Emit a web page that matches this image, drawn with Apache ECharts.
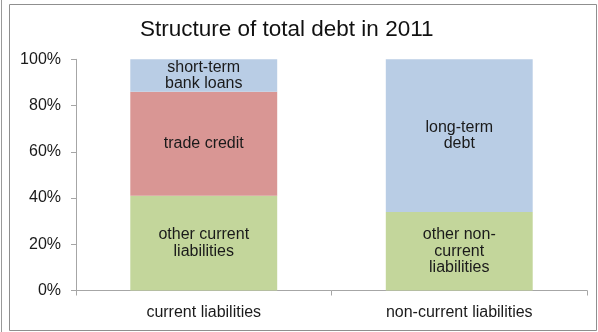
<!DOCTYPE html>
<html>
<head>
<meta charset="utf-8">
<script src="https://cdn.jsdelivr.net/npm/echarts@6/dist/echarts.min.js"></script>
<style>
  html, body { margin: 0; padding: 0; background: #ffffff; }
  #chart { width: 598px; height: 332px; }
</style>
</head>
<body>
<div id="chart"></div>
<script>
// Liability groups on the category axis
const categories = ['current liabilities', 'non-current liabilities'];

// Stacked shares of total debt (%), bottom to top
const bottomValues = [41, 34];
const middleValues = [45, 0];
const topValues = [14, 66];

// Segment captions drawn inside the bars
const bottomNames = ['other current\nliabilities', 'other non-\ncurrent\nliabilities'];
const middleNames = ['trade credit', ''];
const topNames = ['short-term\nbank loans', 'long-term\ndebt'];

const FONT = '"Liberation Sans", Arial, sans-serif';

function insideLabel(names) {
  return {
    show: true,
    position: 'inside',
    color: '#1a1a1a',
    fontFamily: FONT,
    fontSize: 16,
    lineHeight: 16.5,
    formatter: p => (p.value ? names[p.dataIndex] : '')
  };
}

function stackSeries(name, values, names, color) {
  return {
    name: name,
    type: 'bar',
    stack: 'debt',
    data: values,
    barCategoryGap: '42.5%',
    itemStyle: { color: color },
    label: insideLabel(names),
    emphasis: { disabled: true }
  };
}

const chart = echarts.init(document.getElementById('chart'), null, { renderer: 'canvas' });

chart.setOption({
  animation: false,
  backgroundColor: '#ffffff',
  title: {
    text: 'Structure of total debt in 2011',
    left: 140,
    top: 18,
    padding: 0,
    textStyle: { fontFamily: FONT, fontSize: 22.5, fontWeight: 'normal', color: '#111111' }
  },
  graphic: [
    {
      type: 'rect',
      shape: { x: 9.5, y: 4.5, width: 587, height: 326 },
      style: { fill: 'none', stroke: '#8f8f8f', lineWidth: 1 },
      silent: true
    },
    {
      type: 'line',
      shape: { x1: 1.5, y1: 0, x2: 1.5, y2: 332 },
      style: { stroke: '#9a9a9a', lineWidth: 1 },
      silent: true
    }
  ],
  grid: { left: 76, right: 11, top: 59.3, bottom: 41.5, containLabel: false },
  xAxis: {
    type: 'category',
    data: categories,
    axisLine: { lineStyle: { color: '#a6a6a6' } },
    axisTick: { show: true, alignWithLabel: false, length: 5, lineStyle: { color: '#a6a6a6' } },
    axisLabel: { margin: 14, color: '#1a1a1a', fontFamily: FONT, fontSize: 16 },
    splitLine: { show: false }
  },
  yAxis: {
    type: 'value',
    min: 0,
    max: 100,
    interval: 20,
    axisLine: { show: true, lineStyle: { color: '#a6a6a6' } },
    axisTick: { show: true, length: 5, lineStyle: { color: '#a6a6a6' } },
    axisLabel: { margin: 15, color: '#1a1a1a', fontFamily: FONT, fontSize: 16, formatter: '{value}%' },
    splitLine: { show: false }
  },
  series: [
    stackSeries('other', bottomValues, bottomNames, '#c3d69b'),
    stackSeries('trade credit', middleValues, middleNames, '#d99694'),
    stackSeries('bank loans and long-term debt', topValues, topNames, '#b9cde5')
  ]
});
</script>
</body>
</html>
